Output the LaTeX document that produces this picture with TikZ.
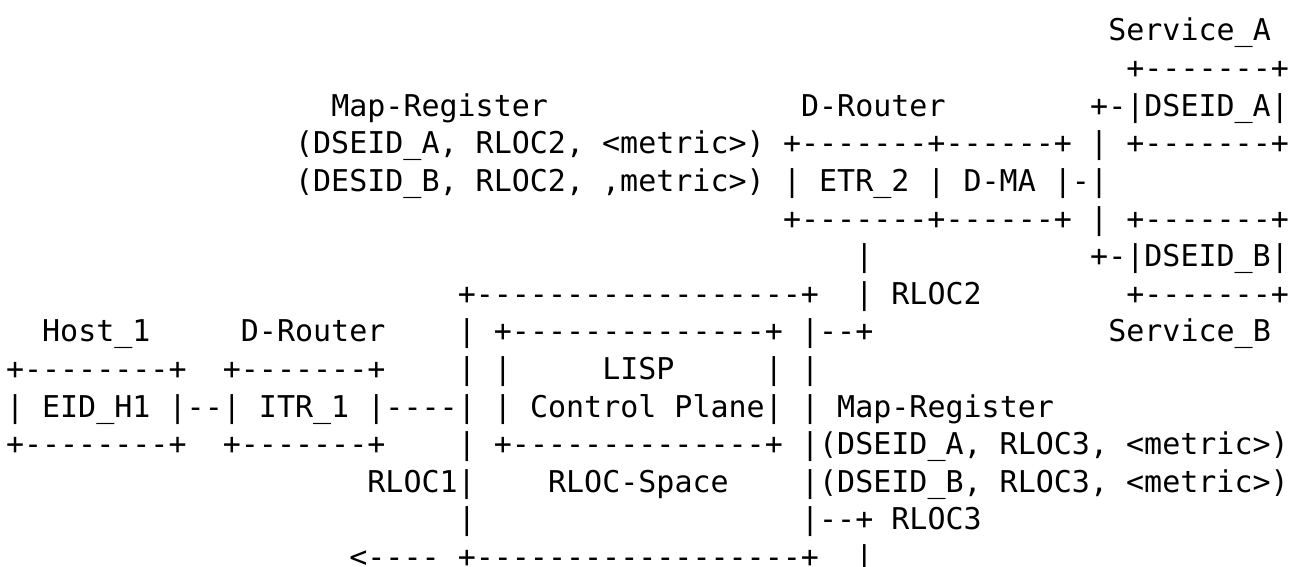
\documentclass[tikz,border=0pt]{standalone}
\usepackage{fontspec}
\setmonofont{DejaVu Sans Mono}
\tikzset{
  ascii/.style={font=\ttfamily\fontsize{15pt}{18pt}\selectfont,
    anchor=base west, inner sep=0pt, outer sep=0pt, text=black},
}
% \cell{name}{column}{row}{text}: one run of characters on the text grid
\newcommand\cell[4]{%
  \node[ascii] (#1) at ({3pt+#2*9.035pt},{-20.5pt-#3*18.8pt}) {#4};}
\begin{document}
\begin{tikzpicture}
\fill[white] (0,0) rectangle (646pt,-283.5pt);
\useasboundingbox (0,0) rectangle (646pt,-283.5pt);

% services on the right
\cell{svcA}{61}{0}{Service\_A}
\cell{svcAtop}{62}{1}{+-------+}
\cell{mrTop}{18}{2}{Map-Register}
\cell{drTop}{44}{2}{D-Router}
\cell{svcAmid}{60}{2}{+-|DSEID\_A|}
\cell{mrA2}{16}{3}{(DSEID\_A, RLOC2, <metric>)}
\cell{etrTop}{43}{3}{+-------+------+}
\cell{busA}{60}{3}{|}
\cell{svcAbot}{62}{3}{+-------+}
\cell{mrB2}{16}{4}{(DESID\_B, RLOC2, ,metric>)}
\cell{etrMid}{43}{4}{| ETR\_2 | D-MA |-|}
\cell{etrBot}{43}{5}{+-------+------+}
\cell{busB}{60}{5}{|}
\cell{svcBtop}{62}{5}{+-------+}
\cell{etrLink}{47}{6}{|}
\cell{svcBmid}{60}{6}{+-|DSEID\_B|}

% RLOC space with the LISP control plane
\cell{rsTop}{25}{7}{+------------------+}
\cell{rloc2}{47}{7}{| RLOC2}
\cell{svcBbot}{62}{7}{+-------+}
\cell{host}{2}{8}{Host\_1}
\cell{drLeft}{13}{8}{D-Router}
\cell{rsL8}{25}{8}{|}
\cell{cpTop}{27}{8}{+--------------+}
\cell{rsR8}{44}{8}{|--+}
\cell{svcB}{61}{8}{Service\_B}
\cell{eidTop}{0}{9}{+--------+}
\cell{itrTop}{12}{9}{+-------+}
\cell{rsL9}{25}{9}{|}
\cell{cpL9}{27}{9}{|}
\cell{lisp}{33}{9}{LISP}
\cell{cpR9}{42}{9}{|}
\cell{rsR9}{44}{9}{|}
\cell{eid}{0}{10}{| EID\_H1 |}
\cell{eidLink}{10}{10}{--}
\cell{itr}{12}{10}{| ITR\_1 |}
\cell{itrLink}{21}{10}{----}
\cell{rsL10}{25}{10}{|}
\cell{cp}{27}{10}{| Control Plane|}
\cell{rsR10}{44}{10}{|}
\cell{mrBot}{46}{10}{Map-Register}
\cell{eidBot}{0}{11}{+--------+}
\cell{itrBot}{12}{11}{+-------+}
\cell{rsL11}{25}{11}{|}
\cell{cpBot}{27}{11}{+--------------+}
\cell{mrA3}{44}{11}{|(DSEID\_A, RLOC3, <metric>)}
\cell{rloc1}{20}{12}{RLOC1|}
\cell{rspace}{30}{12}{RLOC-Space}
\cell{mrB3}{44}{12}{|(DSEID\_B, RLOC3, <metric>)}
\cell{rsL13}{25}{13}{|}
\cell{rloc3}{44}{13}{|--+ RLOC3}
\cell{arrow}{19}{14}{<----}
\cell{rsBot}{25}{14}{+------------------+}
\cell{tail}{47}{14}{|}
\end{tikzpicture}
\end{document}
